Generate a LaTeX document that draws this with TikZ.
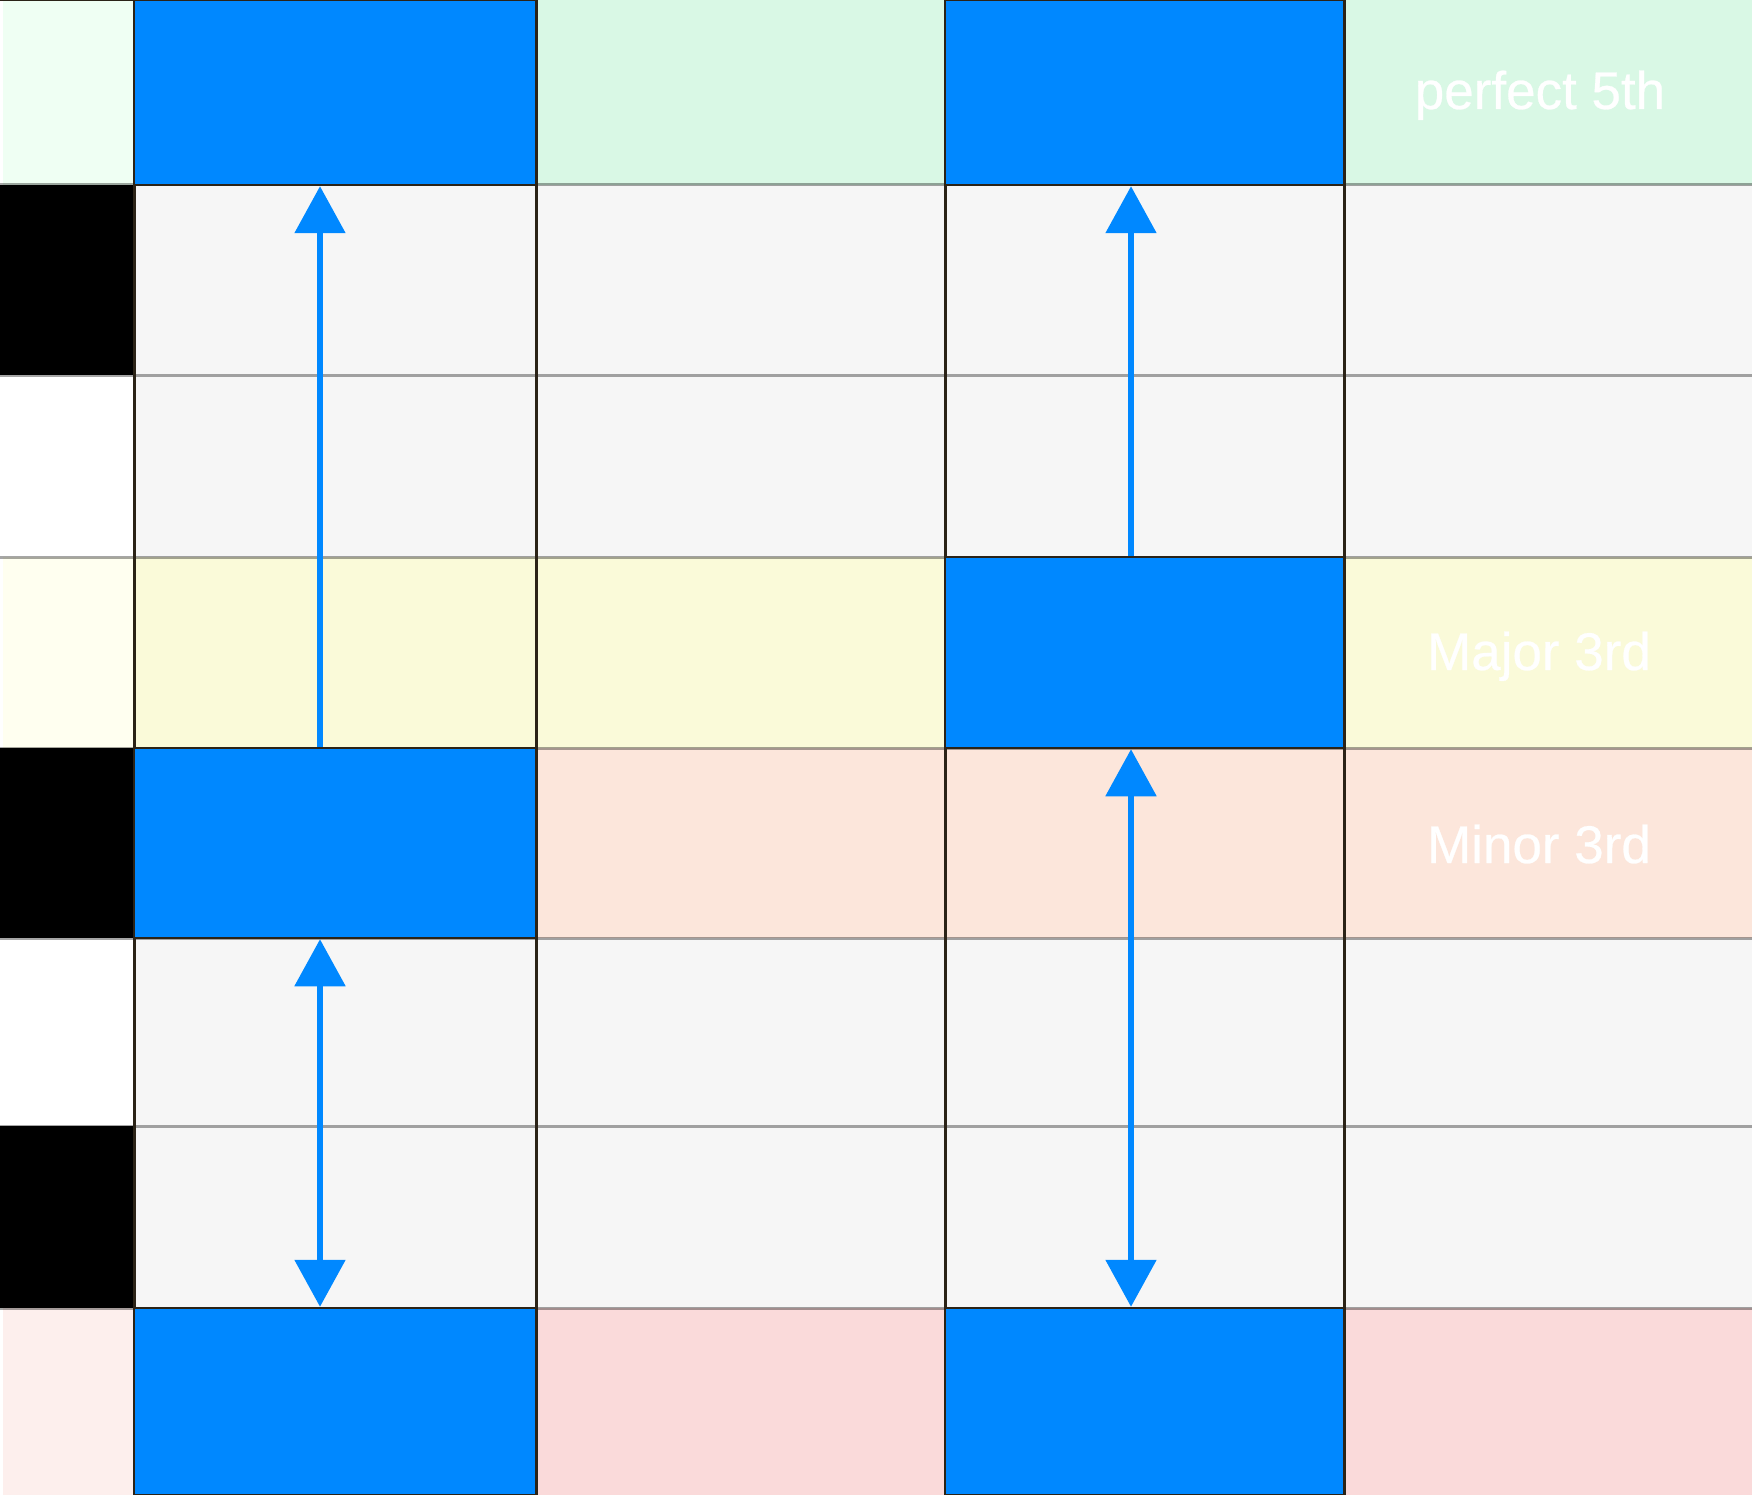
\documentclass[tikz,border=0pt]{standalone}
\usepackage{fontspec}
\setmainfont{Liberation Sans}
\newfontfamily\lblfont[FakeBold=0.5]{Liberation Sans}
\usetikzlibrary{arrows.meta}
\definecolor{keymint}{HTML}{EFFFF3}
\definecolor{rowgreen}{HTML}{D9F8E5}
\definecolor{rowgray}{HTML}{F6F6F6}
\definecolor{keyyellow}{HTML}{FFFFF0}
\definecolor{rowyellow}{HTML}{FAFAD9}
\definecolor{rowpeach}{HTML}{FCE6DB}
\definecolor{keypink}{HTML}{FDEFED}
\definecolor{rowpink}{HTML}{FADADA}
\definecolor{noteblue}{HTML}{0088FF}
\definecolor{darkline}{HTML}{2B2317}
\begin{document}
\begin{tikzpicture}[x=1pt,y=-1pt,
  rowline/.style={draw=black,draw opacity=0.35,line width=3pt},
  colline/.style={draw=darkline,line width=3pt},
  notebox/.style={rectangle,fill=noteblue,draw=darkline,line width=2.5pt,inner sep=0pt},
  interval/.style={draw=noteblue,line width=5.5pt,-{Triangle[length=47pt,width=50pt]}},
  interval2/.style={draw=noteblue,line width=5.5pt,{Triangle[length=47pt,width=50pt]}-{Triangle[length=47pt,width=50pt]}},
  lbl/.style={text=white,font=\lblfont\fontsize{53}{60}\selectfont,inner sep=0pt,anchor=base}]
\useasboundingbox (0,0) rectangle (1752,1495);
\fill[white] (0,0) rectangle (1752,1495);
% row backgrounds
\fill[keymint] (3,0) rectangle (134,185);
\fill[rowgreen] (134,0) rectangle (1752,185);
\fill[black] (0,185) rectangle (134,375);
\fill[rowgray] (134,185) rectangle (1752,375);
\fill[rowgray] (134,375) rectangle (1752,557);
\fill[keyyellow] (3,557) rectangle (134,748);
\fill[rowyellow] (134,557) rectangle (1752,748);
\fill[black] (0,748) rectangle (134,938);
\fill[rowpeach] (134,748) rectangle (1752,938);
\fill[rowgray] (134,938) rectangle (1752,1126);
\fill[black] (0,1126) rectangle (134,1308);
\fill[rowgray] (134,1126) rectangle (1752,1308);
\fill[keypink] (3,1308) rectangle (134,1495);
\fill[rowpink] (134,1308) rectangle (1752,1495);
% row lines
\foreach \yy in {185,375,557,748,938,1126,1308}
  \draw[rowline] (0,\yy) -- (1752,\yy);
\draw[draw=darkline,line width=3pt] (0,0) -- (134,0);
% column lines
\foreach \xx in {134,536,945,1344}
  \draw[colline] (\xx,0) -- (\xx,1495);
% note boxes
\node[notebox,minimum width=402pt,minimum height=185pt] (b10) at (335,92.5) {};
\node[notebox,minimum width=402pt,minimum height=190pt] (b14) at (335,843) {};
\node[notebox,minimum width=402pt,minimum height=187pt] (b17) at (335,1401.5) {};
\node[notebox,minimum width=399pt,minimum height=185pt] (b30) at (1144.5,92.5) {};
\node[notebox,minimum width=399pt,minimum height=191pt] (b33) at (1144.5,652.5) {};
\node[notebox,minimum width=399pt,minimum height=187pt] (b37) at (1144.5,1401.5) {};
% arrow axes
\coordinate (a1) at (320,0);
\coordinate (a3) at (1131,0);
\draw[interval] (b14.north -| a1) -- (b10.south -| a1);
\draw[interval2] (b14.south -| a1) -- (b17.north -| a1);
\draw[interval] (b33.north -| a3) -- (b30.south -| a3);
\draw[interval2] (b33.south -| a3) -- (b37.north -| a3);
% labels
\node[lbl] (l5) at (1540,109) {perfect 5th};
\node[lbl] (lM) at (1539,670) {Major 3rd};
\node[lbl] (lm) at (1539,863) {Minor 3rd};
\end{tikzpicture}
\end{document}
